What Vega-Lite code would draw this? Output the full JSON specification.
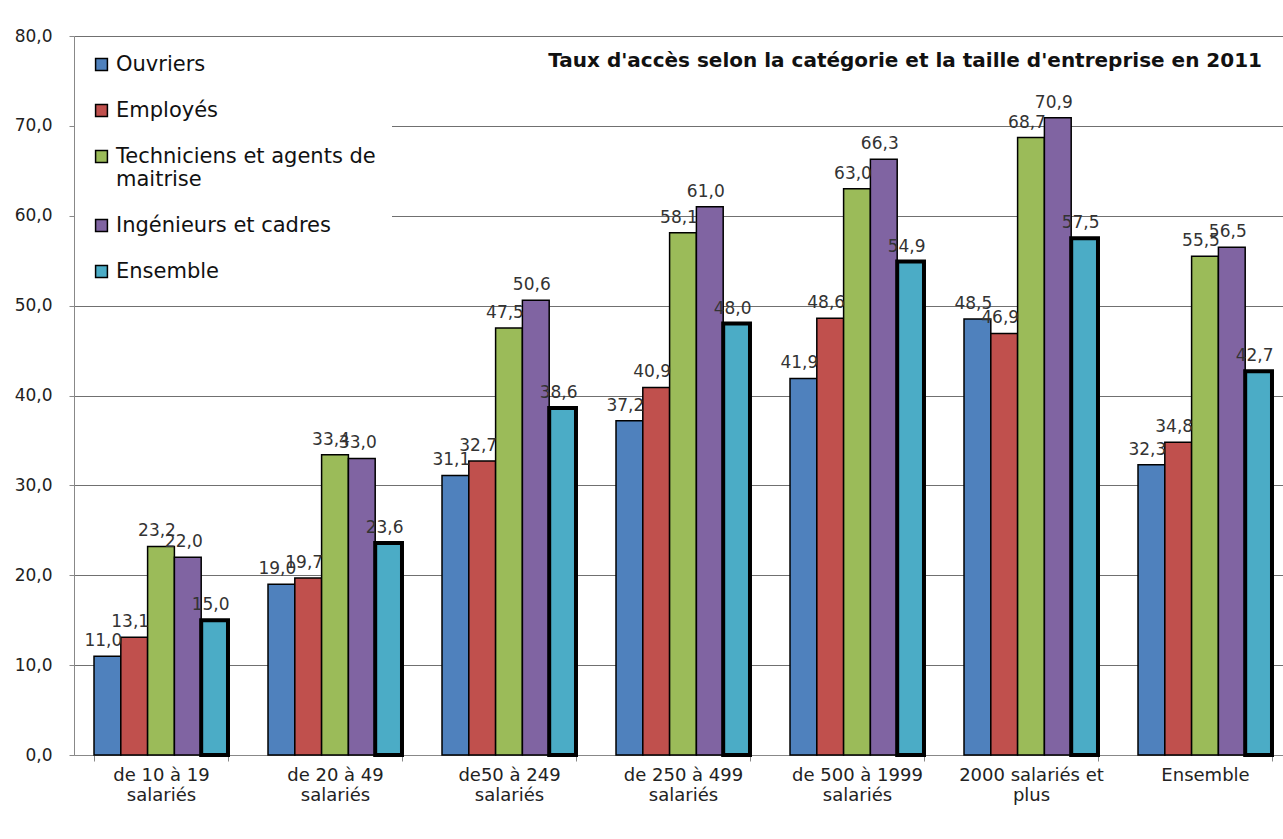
{
  "$schema": "https://vega.github.io/schema/vega-lite/v6.json",
  "width": 1218,
  "height": 719,
  "autosize": {"type": "none"},
  "padding": {"left": 74, "top": 36, "right": 0, "bottom": 84},
  "background": "white",
  "config": {
    "font": "DejaVu Sans",
    "view": {"stroke": null},
    "locale": {"number": {"decimal": ",", "thousands": " ", "grouping": [3], "currency": ["", " €"]}}
  },
  "title": {
    "text": "Taux d'accès selon la catégorie et la taille d'entreprise en 2011",
    "anchor": "end",
    "frame": "group",
    "font": "DejaVu Sans",
    "fontSize": 20,
    "fontWeight": "bold",
    "color": "#111111",
    "baseline": "alphabetic",
    "offset": 0,
    "dx": -30,
    "dy": 60
  },
  "data": {
    "values": [
      {"taille": "de 10 à 19 salariés", "cat": "Ouvriers", "val": 11.0},
      {"taille": "de 10 à 19 salariés", "cat": "Employés", "val": 13.1},
      {"taille": "de 10 à 19 salariés", "cat": "Techniciens et agents de maitrise", "val": 23.2},
      {"taille": "de 10 à 19 salariés", "cat": "Ingénieurs et cadres", "val": 22.0},
      {"taille": "de 10 à 19 salariés", "cat": "Ensemble", "val": 15.0},
      {"taille": "de 20 à 49 salariés", "cat": "Ouvriers", "val": 19.0},
      {"taille": "de 20 à 49 salariés", "cat": "Employés", "val": 19.7},
      {"taille": "de 20 à 49 salariés", "cat": "Techniciens et agents de maitrise", "val": 33.4},
      {"taille": "de 20 à 49 salariés", "cat": "Ingénieurs et cadres", "val": 33.0},
      {"taille": "de 20 à 49 salariés", "cat": "Ensemble", "val": 23.6},
      {"taille": "de50 à 249 salariés", "cat": "Ouvriers", "val": 31.1},
      {"taille": "de50 à 249 salariés", "cat": "Employés", "val": 32.7},
      {"taille": "de50 à 249 salariés", "cat": "Techniciens et agents de maitrise", "val": 47.5},
      {"taille": "de50 à 249 salariés", "cat": "Ingénieurs et cadres", "val": 50.6},
      {"taille": "de50 à 249 salariés", "cat": "Ensemble", "val": 38.6},
      {"taille": "de 250 à 499 salariés", "cat": "Ouvriers", "val": 37.2},
      {"taille": "de 250 à 499 salariés", "cat": "Employés", "val": 40.9},
      {"taille": "de 250 à 499 salariés", "cat": "Techniciens et agents de maitrise", "val": 58.1},
      {"taille": "de 250 à 499 salariés", "cat": "Ingénieurs et cadres", "val": 61.0},
      {"taille": "de 250 à 499 salariés", "cat": "Ensemble", "val": 48.0},
      {"taille": "de 500 à 1999 salariés", "cat": "Ouvriers", "val": 41.9},
      {"taille": "de 500 à 1999 salariés", "cat": "Employés", "val": 48.6},
      {"taille": "de 500 à 1999 salariés", "cat": "Techniciens et agents de maitrise", "val": 63.0},
      {"taille": "de 500 à 1999 salariés", "cat": "Ingénieurs et cadres", "val": 66.3},
      {"taille": "de 500 à 1999 salariés", "cat": "Ensemble", "val": 54.9},
      {"taille": "2000 salariés et plus", "cat": "Ouvriers", "val": 48.5},
      {"taille": "2000 salariés et plus", "cat": "Employés", "val": 46.9},
      {"taille": "2000 salariés et plus", "cat": "Techniciens et agents de maitrise", "val": 68.7},
      {"taille": "2000 salariés et plus", "cat": "Ingénieurs et cadres", "val": 70.9},
      {"taille": "2000 salariés et plus", "cat": "Ensemble", "val": 57.5},
      {"taille": "Ensemble", "cat": "Ouvriers", "val": 32.3},
      {"taille": "Ensemble", "cat": "Employés", "val": 34.8},
      {"taille": "Ensemble", "cat": "Techniciens et agents de maitrise", "val": 55.5},
      {"taille": "Ensemble", "cat": "Ingénieurs et cadres", "val": 56.5},
      {"taille": "Ensemble", "cat": "Ensemble", "val": 42.7}
    ]
  },
  "encoding": {
    "x": {
      "field": "taille",
      "type": "nominal",
      "sort": null,
      "scale": {"paddingInner": 0.23, "paddingOuter": 0.115},
      "axis": {
        "title": null,
        "labelAngle": 0,
        "labelFont": "DejaVu Sans",
        "labelFontSize": 18,
        "labelColor": "#222222",
        "labelLineHeight": 20,
        "labelPadding": 5,
        "tickBand": "extent",
        "tickSize": 6,
        "tickColor": "#888888",
        "domainColor": "#888888",
        "labelExpr": "indexof(datum.label, ' ') < 0 ? datum.label : [substring(datum.label, 0, lastindexof(datum.label, ' ')), substring(datum.label, lastindexof(datum.label, ' ') + 1)]"
      }
    },
    "xOffset": {
      "field": "cat",
      "type": "nominal",
      "sort": ["Ouvriers", "Employés", "Techniciens et agents de maitrise", "Ingénieurs et cadres", "Ensemble"],
      "scale": {"paddingInner": 0, "paddingOuter": 0}
    },
    "y": {
      "field": "val",
      "type": "quantitative",
      "scale": {"domain": [0, 80], "nice": false},
      "axis": {
        "title": null,
        "values": [0, 10, 20, 30, 40, 50, 60, 70, 80],
        "format": ".1f",
        "grid": true,
        "gridColor": "#707070",
        "gridWidth": 1,
        "domainColor": "#888888",
        "tickColor": "#888888",
        "tickSize": 5,
        "labelPadding": 17,
        "labelFont": "DejaVu Sans",
        "labelFontSize": 17,
        "labelColor": "#222222"
      }
    }
  },
  "layer": [
    {
      "mark": {"type": "bar", "stroke": "black"},
      "encoding": {
        "color": {
          "field": "cat",
          "type": "nominal",
          "scale": {
            "domain": ["Ouvriers", "Employés", "Techniciens et agents de maitrise", "Ingénieurs et cadres", "Ensemble"],
            "range": ["#4F81BD", "#C0504D", "#9BBB59", "#8064A2", "#4BACC6"]
          },
          "legend": {
            "orient": "none",
            "legendX": 1,
            "legendY": 2,
            "title": null,
            "fillColor": "white",
            "padding": 16,
            "symbolType": "square",
            "symbolSize": 140,
            "symbolStrokeColor": "black",
            "symbolStrokeWidth": 1.5,
            "symbolOpacity": 1,
            "labelFont": "DejaVu Sans",
            "labelFontSize": 21,
            "labelColor": "#111111",
            "labelOffset": 4,
            "labelLimit": 400,
            "rowPadding": 24,
            "labelExpr": "length(datum.label) > 25 ? [substring(datum.label, 0, lastindexof(datum.label, ' ')), substring(datum.label, lastindexof(datum.label, ' ') + 1)] : datum.label"
          }
        },
        "strokeWidth": {
          "condition": {"test": "datum.cat === 'Ensemble'", "value": 4},
          "value": 1.5
        }
      }
    },
    {
      "mark": {"type": "text", "baseline": "alphabetic", "dy": -10, "dx": -4, "fontSize": 17, "font": "DejaVu Sans", "color": "#333333"},
      "encoding": {
        "text": {"field": "val", "type": "quantitative", "format": ".1f"}
      }
    }
  ]
}
